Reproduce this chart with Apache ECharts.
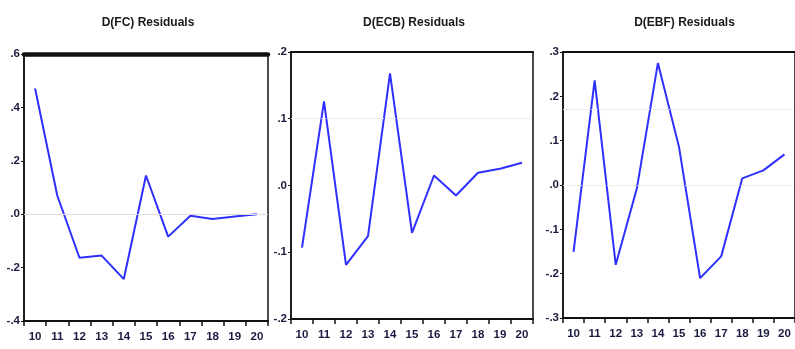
<!DOCTYPE html>
<html><head><meta charset="utf-8">
<script src="https://cdn.jsdelivr.net/npm/echarts@6/dist/echarts.min.js"></script>
<style>html,body{margin:0;padding:0;background:#fff}#c{width:795px;height:349px}</style>
</head><body><div id="c"></div>
<script>
const categories = ['10','11','12','13','14','15','16','17','18','19','20'];
const titles = ['D(FC) Residuals','D(ECB) Residuals','D(EBF) Residuals'];
const fcResid  = [0.471, 0.07, -0.163, -0.155, -0.243, 0.145, -0.084, -0.006, -0.018, -0.009, 0.0];
const ecbResid = [-0.093, 0.126, -0.119, -0.076, 0.168, -0.071, 0.015, -0.015, 0.019, 0.025, 0.034];
const ebfResid = [-0.151, 0.236, -0.18, -0.008, 0.275, 0.086, -0.21, -0.161, 0.015, 0.033, 0.069];
const yMin = [-0.4, -0.2, -0.3];
const yMax = [0.6, 0.2, 0.3];
const yStep = [0.2, 0.1, 0.1];
const refLines = [[0], [0.1], [0.175, 0]];

const font = '"Liberation Sans",Arial,sans-serif';
const grids = [
  {left: 24, top: 54, width: 244, height: 267},
  {left: 291, top: 52, width: 242, height: 267},
  {left: 563, top: 52, width: 239, height: 266}
];
const topWidth = [4.5, 2, 2];
const series = [fcResid, ecbResid, ebfResid];
const fmt = v => v.toFixed(1).replace('0.', '.');

const option = {
  animation: false,
  title: titles.map((t, i) => ({
    text: t, left: grids[i].left + grids[i].width / 2 - 3, top: 12, textAlign: 'center',
    textStyle: {fontFamily: font, fontSize: 12, fontWeight: 'bold', color: '#1a1a1a'}
  })),
  grid: grids.map(g => Object.assign({show: true, borderColor: '#111', borderWidth: 1.5, backgroundColor: '#fff'}, g)),
  xAxis: [].concat(...grids.map((g, i) => [
    {type: 'category', gridIndex: i, data: categories, boundaryGap: true, position: 'bottom',
     axisLine: {onZero: false, lineStyle: {color: '#111', width: 2}},
     axisTick: {show: true, length: 5, lineStyle: {color: '#111', width: 1.5}},
     axisLabel: {fontFamily: font, fontSize: 11.5, fontWeight: 'bold', color: '#1a1a40', margin: 10},
     splitLine: {show: false}},
    {type: 'category', gridIndex: i, data: categories, position: 'top',
     axisLine: {onZero: false, lineStyle: {color: '#111', width: topWidth[i]}},
     axisTick: {show: false}, axisLabel: {show: false}, splitLine: {show: false}}
  ])),
  yAxis: grids.map((g, i) => ({
    type: 'value', gridIndex: i, min: yMin[i], max: yMax[i], interval: yStep[i],
    axisLine: {show: true, onZero: false, lineStyle: {color: '#111', width: 1.5}},
    axisTick: {show: true, length: 3, lineStyle: {color: '#111'}},
    axisLabel: {formatter: fmt, fontFamily: font, fontSize: 11.5, fontWeight: 'bold', color: '#1a1a40', margin: 4},
    splitLine: {show: false}
  })),
  series: series.map((d, i) => ({
    type: 'line', xAxisIndex: i * 2, yAxisIndex: i, data: d, symbol: 'none',
    lineStyle: {color: '#2f2fff', width: 2},
    markLine: {silent: true, symbol: 'none', label: {show: false},
      lineStyle: {color: '#dcdcdc', type: i === 0 ? 'solid' : 'dotted', width: 1},
      data: refLines[i].map(v => ({yAxis: v}))}
  }))
};
echarts.init(document.getElementById('c')).setOption(option);
</script></body></html>
